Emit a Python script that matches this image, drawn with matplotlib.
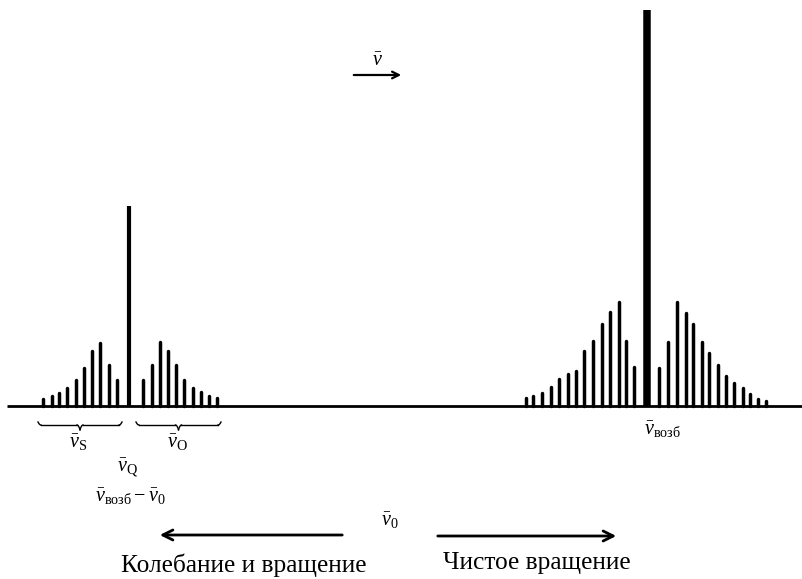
import matplotlib
matplotlib.use("Agg")
import matplotlib.pyplot as plt
import numpy as np

plt.rcParams['font.family'] = ['Liberation Serif', 'DejaVu Serif']
plt.rcParams['mathtext.fontset'] = 'custom'
plt.rcParams['mathtext.rm'] = 'Liberation Serif'
plt.rcParams['mathtext.it'] = 'Liberation Serif:italic'
plt.rcParams['mathtext.bf'] = 'Liberation Serif:bold'

# ---- data (wavenumber position, intensity) ----
# vibration-rotation band (left): S branch, Q branch, O branch
vib_S_pos = [43, 52, 59, 67, 76, 84, 92, 100, 109, 117]
vib_S_int = [7, 10, 13, 18, 26, 38, 55, 63, 41, 26]
vib_Q_pos = [129]
vib_Q_int = [200]
vib_O_pos = [143, 152, 160, 168, 176, 184, 193, 201, 209, 217]
vib_O_int = [26, 41, 64, 55, 41, 26, 18, 14, 10, 8]

# pure rotation band (right): anti-Stokes, Rayleigh, Stokes
rot_low_pos = [526, 533, 542, 551, 559, 568, 576, 584, 593, 602, 610, 619, 626, 634]
rot_low_int = [8, 10, 13, 19, 27, 32, 35, 55, 65, 82, 94, 104, 65, 39]
rayleigh_pos = [647]
rayleigh_int = [396]
rot_high_pos = [659, 668, 677, 686, 693, 702, 709, 718, 726, 734, 743, 750, 758, 766]
rot_high_int = [38, 64, 104, 93, 82, 64, 53, 41, 30, 23, 18, 12, 7, 5]

fig = plt.figure(figsize=(8.03, 5.79), dpi=100)
ax = fig.add_axes([0, 0, 1, 1])
ax.set_xlim(0, 803)
ax.set_ylim(-173, 406)
ax.axis('off')

# baseline
ax.plot([7, 803], [0, 0], color='black', lw=2.0, solid_capstyle='butt')

side_lw = 2.5
for pos, inten in [(vib_S_pos, vib_S_int), (vib_O_pos, vib_O_int),
                   (rot_low_pos, rot_low_int), (rot_high_pos, rot_high_int)]:
    for x, h in zip(pos, inten):
        ax.plot([x, x], [0, h], color='black', lw=side_lw, solid_capstyle='round')
for x, h in zip(vib_Q_pos, vib_Q_int):
    ax.plot([x, x], [0, h], color='black', lw=3.0, solid_capstyle='butt')
for x, h in zip(rayleigh_pos, rayleigh_int):
    ax.plot([x, x], [0, h], color='black', lw=5.4, solid_capstyle='butt')


def brace(x1, x2, y, depth=6):
    xm = (x1 + x2) / 2
    t = np.linspace(0, 1, 20)
    ax.plot(x1 + 3 * t, y + depth * 0.5 * (1 - t) ** 2, color='black', lw=1.0)
    ax.plot([x1 + 3, xm - 3], [y, y], color='black', lw=1.0)
    ax.plot(xm - 3 + 3 * t, y - depth * 0.8 * t ** 2, color='black', lw=1.0)
    ax.plot(xm + 3 * t, y - depth * 0.8 * (1 - t) ** 2, color='black', lw=1.0)
    ax.plot([xm + 3, x2 - 3], [y, y], color='black', lw=1.0)
    ax.plot(x2 - 3 + 3 * t, y + depth * 0.5 * t ** 2, color='black', lw=1.0)


brace(38, 122, -19)
brace(136, 221, -19)

fs_sym = 14.5
ax.text(78, -37, r'$\bar{\nu}_{\mathrm{S}}$', ha='center', va='center', fontsize=fs_sym)
ax.text(177, -37, r'$\bar{\nu}_{\mathrm{O}}$', ha='center', va='center', fontsize=fs_sym)
ax.text(128, -62, r'$\bar{\nu}_{\mathrm{Q}}$', ha='center', va='center', fontsize=fs_sym)
ax.text(130, -91, r'$\bar{\nu}_{\mathrm{возб}}-\bar{\nu}_{0}$', ha='center', va='center', fontsize=fs_sym)
ax.text(662, -24, r'$\bar{\nu}_{\mathrm{возб}}$', ha='center', va='center', fontsize=fs_sym)
ax.text(390, -115, r'$\bar{\nu}_{0}$', ha='center', va='center', fontsize=fs_sym)

# top direction arrow
ax.annotate('', xy=(404, 331), xytext=(351, 331),
            arrowprops=dict(arrowstyle='->', lw=1.6, color='black', mutation_scale=12))
ax.text(377, 344, r'$\bar{\nu}$', ha='center', va='center', fontsize=fs_sym)

# bottom arrows
ax.annotate('', xy=(157, -129), xytext=(345, -129),
            arrowprops=dict(arrowstyle='->', lw=2.0, color='black', mutation_scale=18))
ax.annotate('', xy=(619, -130), xytext=(435, -130),
            arrowprops=dict(arrowstyle='->', lw=2.0, color='black', mutation_scale=18))

ax.text(244, -159, 'Колебание и вращение', ha='center', va='center', fontsize=18.3)
ax.text(537, -157, 'Чистое вращение', ha='center', va='center', fontsize=18.3)

fig.savefig('out.png', dpi=100, facecolor='white')
